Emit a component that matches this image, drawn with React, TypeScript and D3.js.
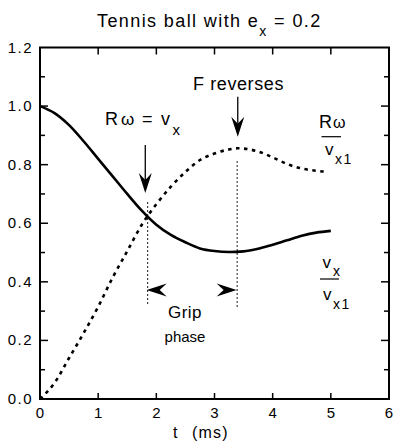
import React from "react";
import * as d3 from "d3";

const timeGrid = [0, 0.25, 0.5, 0.75, 1.0, 1.25, 1.5, 1.75, 2.0, 2.25, 2.5, 2.75, 3.0, 3.25, 3.5, 3.75, 4.0, 4.25, 4.5, 4.75, 5.0];
const vxRatio = [1.0, 0.976, 0.935, 0.88, 0.82, 0.76, 0.70, 0.643, 0.595, 0.56, 0.535, 0.514, 0.505, 0.502, 0.504, 0.513, 0.527, 0.542, 0.557, 0.568, 0.574];
const spinTime = [0, 0.25, 0.5, 0.75, 1.0, 1.25, 1.5, 1.75, 2.0, 2.25, 2.5, 2.75, 3.0, 3.25, 3.4, 3.5, 3.75, 4.0, 4.25, 4.5, 4.75, 4.95];
const spinRatio = [0.0, 0.055, 0.14, 0.225, 0.315, 0.415, 0.505, 0.595, 0.665, 0.725, 0.775, 0.816, 0.838, 0.852, 0.856, 0.855, 0.845, 0.825, 0.802, 0.787, 0.779, 0.776];

const xTicks = [0, 1, 2, 3, 4, 5, 6];
const yTicks = [0.0, 0.2, 0.4, 0.6, 0.8, 1.0, 1.2];
const yMinorTicks = [0.1, 0.3, 0.5, 0.7, 0.9, 1.1];

const crossT = 1.85;
const reverseT = 3.39;

const W = 394;
const H = 441;
const FONT = "'Liberation Sans', Arial, Helvetica, sans-serif";

export default function App() {
  const x = d3.scaleLinear().domain([0, 6]).range([40, 389]);
  const y = d3.scaleLinear().domain([0, 1.2]).range([399, 47.5]);

  const line = d3
    .line<[number, number]>()
    .x((d) => x(d[0]))
    .y((d) => y(d[1]))
    .curve(d3.curveMonotoneX);

  const solidPath = line(timeGrid.map((t, i) => [t, vxRatio[i]] as [number, number])) || "";
  const dotPath = line(spinTime.map((t, i) => [t, spinRatio[i]] as [number, number])) || "";

  const downArrow = (cx: number, tip: number, top: number) => {
    const len = 20, hw = 6.5, notch = 7;
    return (
      <g>
        <line x1={cx} x2={cx} y1={top} y2={tip - len + notch} stroke="#000" strokeWidth={1.3} />
        <path d={`M${cx},${tip} L${cx - hw},${tip - len} L${cx},${tip - len + notch} L${cx + hw},${tip - len} Z`} fill="#000" />
      </g>
    );
  };
  const hArrow = (tipX: number, cy: number, dir: number) => {
    const len = 20, hw = 6.5, notch = 7;
    const b = tipX - dir * len;
    const n = tipX - dir * (len - notch);
    return <path d={`M${tipX},${cy} L${b},${cy - hw} L${n},${cy} L${b},${cy + hw} Z`} fill="#000" />;
  };

  const textStyle = { fontFamily: FONT, fill: "#000" } as React.CSSProperties;

  return (
    <svg width={W} height={H} style={{ position: "absolute", left: 0, top: 0, background: "#fff" }}>
      {/* title */}
      <text x={97} y={27} style={{ ...textStyle, fontSize: 18, letterSpacing: 1.4 }}>
        Tennis ball with e
        <tspan dy={9} style={{ fontSize: 14 }}>x</tspan>
        <tspan dy={-9}>{"  = 0.2"}</tspan>
      </text>

      {/* frame */}
      <rect x={x(0)} y={y(1.2)} width={x(6) - x(0)} height={y(0) - y(1.2)} fill="none" stroke="#000" strokeWidth={2} />

      {/* x ticks bottom and top */}
      {xTicks.slice(1, -1).map((t) => (
        <g key={"xt" + t}>
          <line x1={x(t)} x2={x(t)} y1={y(0)} y2={y(0) - 6} stroke="#000" strokeWidth={1.5} />
          <line x1={x(t)} x2={x(t)} y1={y(1.2)} y2={y(1.2) + 7} stroke="#000" strokeWidth={1.5} />
        </g>
      ))}
      {xTicks.map((t) => (
        <text key={"xl" + t} x={x(t)} y={418} textAnchor="middle" style={{ ...textStyle, fontSize: 15 }}>
          {t}
        </text>
      ))}

      {/* y ticks */}
      {yTicks.slice(1, -1).map((v) => (
        <g key={"yt" + v}>
          <line x1={x(0)} x2={x(0) + 8} y1={y(v)} y2={y(v)} stroke="#000" strokeWidth={1.5} />
          <line x1={x(6)} x2={x(6) - 8} y1={y(v)} y2={y(v)} stroke="#000" strokeWidth={1.5} />
        </g>
      ))}
      {yMinorTicks.map((v) => (
        <g key={"ym" + v}>
          <line x1={x(0)} x2={x(0) + 5} y1={y(v)} y2={y(v)} stroke="#000" strokeWidth={1.5} />
          <line x1={x(6)} x2={x(6) - 5} y1={y(v)} y2={y(v)} stroke="#000" strokeWidth={1.5} />
        </g>
      ))}
      {yTicks.map((v) => (
        <text key={"yl" + v} x={33} y={y(v) + 5} textAnchor="end" style={{ ...textStyle, fontSize: 15, letterSpacing: 1.5 }}>
          {v.toFixed(1)}
        </text>
      ))}

      {/* axis title */}
      <text x={173} y={438} style={{ ...textStyle, fontSize: 16, letterSpacing: 1.2 }}>t</text>
      <text x={192} y={438} style={{ ...textStyle, fontSize: 16, letterSpacing: 1.2 }}>(ms)</text>

      {/* curves */}
      <path d={solidPath} fill="none" stroke="#000" strokeWidth={2.6} />
      <path d={dotPath} fill="none" stroke="#000" strokeWidth={2.6} strokeDasharray="3.5 4.5" />

      {/* vertical dotted markers */}
      <line x1={x(crossT)} x2={x(crossT)} y1={y(0.672)} y2={y(0.325)} stroke="#000" strokeWidth={1.2} strokeDasharray="1.5 2.5" />
      <line x1={x(reverseT)} x2={x(reverseT)} y1={y(0.812)} y2={y(0.315)} stroke="#000" strokeWidth={1.2} strokeDasharray="1.5 2.5" />

      {/* arrows */}
      {downArrow(x(1.81), y(0.703), y(0.867))}
      {downArrow(x(3.4), y(0.895), y(1.032))}
      {hArrow(x(1.834), y(0.372), -1)}
      {hArrow(x(3.38), y(0.372), 1)}

      {/* annotation texts */}
      <text x={193} y={90} style={{ ...textStyle, fontSize: 18, letterSpacing: 0.6 }}>F reverses</text>

      <text x={105} y={125} style={{ ...textStyle, fontSize: 18 }}>R</text>
      <text x={121} y={125} style={{ ...textStyle, fontSize: 17 }}>ω</text>
      <text x={142} y={125} style={{ ...textStyle, fontSize: 18 }}>=</text>
      <text x={161} y={125} style={{ ...textStyle, fontSize: 18 }}>v</text>
      <text x={172.5} y={135} style={{ ...textStyle, fontSize: 15 }}>x</text>

      {/* upper fraction */}
      <text x={319} y={128} style={{ ...textStyle, fontSize: 18 }}>R</text>
      <text x={333} y={128} style={{ ...textStyle, fontSize: 16 }}>ω</text>
      <line x1={321.5} x2={341} y1={136.7} y2={136.7} stroke="#000" strokeWidth={1.2} />
      <text x={325} y={155} style={{ ...textStyle, fontSize: 17 }}>v</text>
      <text x={335} y={164} style={{ ...textStyle, fontSize: 14, letterSpacing: 1.5 }}>x1</text>

      {/* lower fraction */}
      <text x={322.5} y={268} style={{ ...textStyle, fontSize: 17 }}>v</text>
      <text x={333} y={276} style={{ ...textStyle, fontSize: 14 }}>x</text>
      <line x1={320} x2={339} y1={279} y2={279} stroke="#000" strokeWidth={1.2} />
      <text x={323} y={300} style={{ ...textStyle, fontSize: 17 }}>v</text>
      <text x={333} y={309} style={{ ...textStyle, fontSize: 14, letterSpacing: 1.5 }}>x1</text>

      {/* grip phase */}
      <text x={185} y={318} textAnchor="middle" style={{ ...textStyle, fontSize: 17, letterSpacing: 0.5 }}>Grip</text>
      <text x={185} y={342} textAnchor="middle" style={{ ...textStyle, fontSize: 15 }}>phase</text>
    </svg>
  );
}
